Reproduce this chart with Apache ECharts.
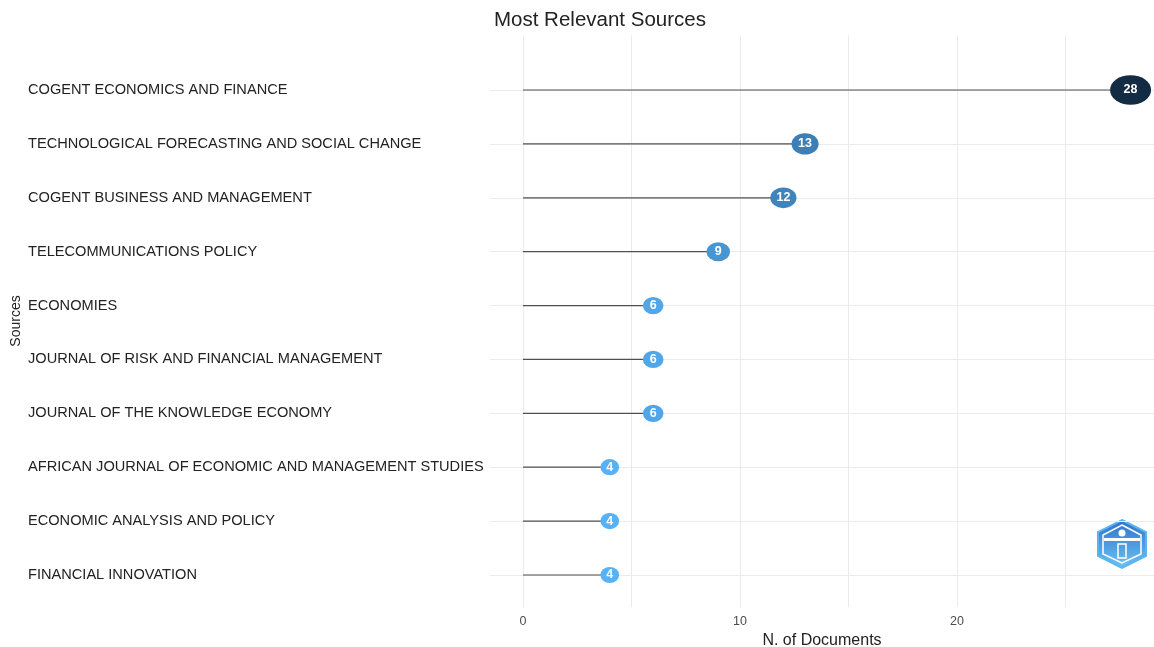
<!DOCTYPE html>
<html>
<head>
<meta charset="utf-8">
<script src="https://cdn.jsdelivr.net/npm/echarts@6/dist/echarts.min.js"></script>
<style>
html,body{margin:0;padding:0;background:#fff;}
#chart{width:1154px;height:647px;}
</style>
</head>
<body>
<div id="chart"></div>
<script>
const sources = [
  'COGENT ECONOMICS AND FINANCE',
  'TECHNOLOGICAL FORECASTING AND SOCIAL CHANGE',
  'COGENT BUSINESS AND MANAGEMENT',
  'TELECOMMUNICATIONS POLICY',
  'ECONOMIES',
  'JOURNAL OF RISK AND FINANCIAL MANAGEMENT',
  'JOURNAL OF THE KNOWLEDGE ECONOMY',
  'AFRICAN JOURNAL OF ECONOMIC AND MANAGEMENT STUDIES',
  'ECONOMIC ANALYSIS AND POLICY',
  'FINANCIAL INNOVATION'
];
const documents = [28, 13, 12, 9, 6, 6, 6, 4, 4, 4];
const xTickValues = [0, 5, 10, 15, 20, 25];
const xLabelValues = [0, 10, 20];

const FONT = 'Liberation Sans, Arial, sans-serif';
const X_MIN = -1.52, X_MAX = 29.08;

const chart = echarts.init(document.getElementById('chart'));
chart.setOption({
  backgroundColor: '#ffffff',
  animation: false,
  textStyle: { fontFamily: FONT },
  title: {
    text: 'Most Relevant Sources',
    left: 489, top: 5,
    textStyle: { fontSize: 20.5, fontWeight: 'normal', color: '#222', fontFamily: FONT }
  },
  grid: [
    { left: 490, right: 0, top: 35, bottom: 40, outerBoundsMode: 'none', containLabel: false },
    { left: 490, right: 0, top: 90, bottom: 72, outerBoundsMode: 'none', containLabel: false }
  ],
  xAxis: [
    {
      gridIndex: 0, type: 'value', min: X_MIN, max: X_MAX,
      name: 'N. of Documents', nameLocation: 'middle', nameGap: 20,
      nameTextStyle: { fontSize: 16, color: '#222', fontFamily: FONT },
      axisLine: { show: false },
      axisTick: { show: false, customValues: xTickValues },
      axisLabel: { customValues: xLabelValues, fontSize: 12.5, color: '#4d4d4d', margin: 8 },
      splitLine: { show: true, lineStyle: { color: '#ebebeb', width: 1 } }
    },
    {
      gridIndex: 1, type: 'value', min: X_MIN, max: X_MAX, show: false,
      splitLine: { show: false }
    }
  ],
  yAxis: [
    {
      gridIndex: 0, type: 'value', min: 0, max: 1,
      name: 'Sources', nameLocation: 'middle', nameGap: 467, nameRotate: 90,
      nameTextStyle: { fontSize: 14, color: '#222', fontFamily: FONT },
      axisLine: { show: false }, axisTick: { show: false },
      axisLabel: { show: false }, splitLine: { show: false }
    },
    {
      gridIndex: 1, type: 'category', data: sources, inverse: true, boundaryGap: false,
      axisLine: { show: false }, axisTick: { show: false },
      axisLabel: { align: 'left', margin: 462, fontSize: 14.6, color: '#222', fontFamily: FONT },
      splitLine: { show: true, lineStyle: { color: '#ebebeb', width: 1 } }
    }
  ],
  visualMap: {
    show: false, type: 'continuous', min: 4, max: 28, dimension: 0, seriesIndex: 1,
    inRange: { color: ['#56B1F7', '#132B43'] }
  },
  series: [
    {
      type: 'bar', xAxisIndex: 1, yAxisIndex: 1,
      data: documents, barWidth: 1.2,
      itemStyle: { color: '#505050' }, silent: true, z: 2
    },
    {
      type: 'scatter', xAxisIndex: 1, yAxisIndex: 1,
      data: documents.map((v, i) => [v, sources[i]]),
      symbol: 'circle',
      symbolSize: function (d) { const w = 15 + 0.93 * d[0]; return [w, 0.6 * w + 5]; },
      itemStyle: { opacity: 1 },
      label: {
        show: true, position: 'inside', color: '#ffffff', fontWeight: 'bold',
        fontFamily: FONT,
        fontSize: 12.5,
        formatter: p => String(p.value[0])
      },
      z: 3
    }
  ],
  graphic: [
    {
      type: 'group', left: 1097, top: 519,
      children: [
        {
          type: 'polygon',
          shape: { points: [[25,0],[49,12],[49,36],[25,48],[1,36],[1,12]] },
          style: {
            fill: new echarts.graphic.LinearGradient(0, 0, 0, 1, [
              { offset: 0, color: '#2f6fc9' }, { offset: 1, color: '#6cc6f5' }
            ]),
            stroke: '#5ab4ee', lineWidth: 2
          }
        },
        {
          type: 'polygon',
          shape: { points: [[25,5],[44,15],[44,34],[25,43],[6,34],[6,15]] },
          style: { fill: 'none', stroke: '#ffffff', lineWidth: 1.5 }
        },
        {
          type: 'rect', shape: { x: 7, y: 18, width: 36, height: 3 },
          style: { fill: '#ffffff' }
        },
        {
          type: 'circle', shape: { cx: 25, cy: 13, r: 3.5 },
          style: { fill: '#ffffff' }
        },
        {
          type: 'rect', shape: { x: 21, y: 24, width: 8, height: 14 },
          style: { fill: 'none', stroke: '#ffffff', lineWidth: 1.5 }
        }
      ]
    }
  ]
});
</script>
</body>
</html>
